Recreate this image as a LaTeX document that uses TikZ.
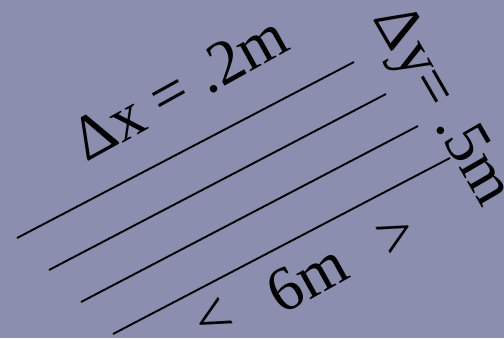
\documentclass[tikz,border=0pt]{standalone}
\usepackage{fontspec}
\setmainfont{Liberation Serif}
\definecolor{slatebg}{RGB}{139,142,175}
\tikzset{
    lbl/.style={inner sep=0pt, font=\fontsize{63}{70}\selectfont}
}

\begin{document}
\begin{tikzpicture}[x=1pt, y=1pt]%
        \fill [slatebg] (0,0) rectangle (504,338);
        \useasboundingbox (0,0) rectangle (504,338);
        \foreach \i in {0, 1, 2, 3} {
            \draw [line width=1.9pt] ({17+32*\i}, {100-32*\i}) to ({354+32*\i}, {276-32*\i});
        }
        \node [lbl, rotate=29] (dx) at (180, 250) {Δx = .2m};
        \node [lbl, rotate=-60] (dy) at (440, 231) {Δy= .5m};
        \node [lbl, rotate=29] (len) at (307, 60) {6m};
        \node [lbl, rotate=29] (lt) at (214, 18) {<};
        \node [lbl, rotate=29] (gt) at (397, 102) {>};
    \end{tikzpicture}
\end{document}
